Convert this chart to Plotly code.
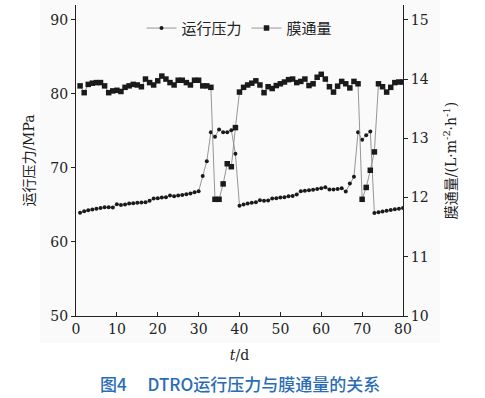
import plotly.graph_objects as go

days = list(range(1, 81))

pressure = [
    63.93, 64.16, 64.29, 64.38, 64.47, 64.60, 64.69, 64.69, 64.65, 65.10,
    65.00, 65.05, 65.19, 65.23, 65.28, 65.32, 65.37, 65.55, 65.86, 65.90,
    66.00, 66.04, 66.26, 66.17, 66.26, 66.35, 66.44, 66.53, 66.71, 66.85,
    68.90, 70.90, 74.80, 74.20, 75.20, 74.80, 74.80, 75.10, 71.90, 64.90,
    65.05, 65.19, 65.30, 65.37, 65.63, 65.55, 65.60, 65.86, 65.90, 66.00,
    66.05, 66.17, 66.20, 66.40, 66.85, 66.90, 66.98, 67.05, 67.16, 67.25,
    67.39, 67.07, 67.10, 67.16, 67.25, 66.80, 67.90, 68.80, 74.80, 73.80,
    74.40, 74.90, 63.90, 64.00, 64.10, 64.20, 64.30, 64.40, 64.50, 64.60,
]

flux = [
    13.885, 13.77, 13.91, 13.93, 13.94, 13.94, 13.885, 13.77, 13.80, 13.81,
    13.79, 13.86, 13.885, 13.91, 13.90, 13.87, 14.00, 13.94, 13.90, 13.97,
    14.05, 14.00, 13.94, 13.90, 13.98, 13.98, 13.94, 13.90, 13.98, 13.98,
    13.885, 13.885, 13.86, 11.97, 11.97, 12.23, 12.57, 12.52, 13.18, 13.78,
    13.86, 13.90, 13.93, 13.97, 13.90, 13.77, 13.87, 13.84, 13.89, 13.92,
    13.95, 13.99, 14.00, 13.94, 13.96, 14.00, 13.89, 13.92, 14.03, 14.08,
    14.00, 13.87, 13.78, 13.88, 13.96, 13.92, 13.85, 13.96, 13.92, 11.97,
    12.17, 12.46, 12.77, 13.92, 13.87, 13.78, 13.86, 13.94, 13.95, 13.95,
]

x_ticks = [0, 10, 20, 30, 40, 50, 60, 70, 80]
y1_ticks = [50, 60, 70, 80, 90]
y2_ticks = [10, 11, 12, 13, 14, 15]

serif = "DejaVu Serif"
mixed = "DejaVu Serif, Noto Sans CJK SC"
line_col = "#8a8a8a"
mark_col = "#1a1a1a"
ink = "#222222"

fig = go.Figure()
fig.add_trace(go.Scatter(
    x=days, y=pressure, name="运行压力", mode="lines+markers",
    line=dict(color=line_col, width=0.9),
    marker=dict(symbol="circle", size=4, color=mark_col),
    yaxis="y",
))
fig.add_trace(go.Scatter(
    x=days, y=flux, name="膜通量", mode="lines+markers",
    line=dict(color=line_col, width=0.9),
    marker=dict(symbol="square", size=5.5, color=mark_col),
    yaxis="y2",
))

fig.update_layout(
    width=485, height=398,
    margin=dict(l=76, r=82, t=5, b=82),
    paper_bgcolor="white", plot_bgcolor="rgba(0,0,0,0)",
    font=dict(family=mixed, size=15, color=ink),
    showlegend=True,
    legend=dict(
        orientation="h", x=0.5, xanchor="center", y=0.925, yanchor="middle",
        bgcolor="rgba(0,0,0,0)", font=dict(family=mixed, size=15, color=ink),
        itemwidth=30, tracegroupgap=0,
    ),
    xaxis=dict(
        range=[0, 80], tickvals=x_ticks, ticks="inside", ticklen=4,
        tickcolor=ink, showline=True, linecolor=ink, linewidth=1,
        showgrid=False, zeroline=False, mirror=False,
        tickfont=dict(family=serif, size=14, color=ink),
        title=dict(text="<i>t</i>/d", font=dict(family=serif, size=14, color=ink), standoff=14),
    ),
    yaxis=dict(
        range=[50, 92], tickvals=y1_ticks, ticks="outside", ticklen=4,
        tickcolor=ink, showline=True, linecolor=ink, linewidth=1,
        showgrid=False, zeroline=False,
        tickfont=dict(family=serif, size=14, color=ink),
        title=dict(text="运行压力/MPa", font=dict(family=mixed, size=14, color=ink), standoff=12),
    ),
    yaxis2=dict(
        range=[10, 15.25], tickvals=y2_ticks, ticks="outside", ticklen=4,
        tickcolor=ink, showline=True, linecolor=ink, linewidth=1,
        showgrid=False, zeroline=False, overlaying="y", side="right",
        tickfont=dict(family=serif, size=14, color=ink),
        title=dict(text="膜通量/(L·m<sup>-2</sup>·h<sup>-1</sup>)",
                   font=dict(family=mixed, size=14, color=ink), standoff=18),
    ),
    shapes=[dict(
        type="rect", xref="paper", yref="paper", layer="below",
        x0=(40 - 76) / 327, x1=(440 - 76) / 327, y0=(316 - 343) / 311, y1=(316 + 5) / 311,
        fillcolor="#fafafa", line=dict(width=0),
    )],
    annotations=[dict(
        text="图4　 DTRO运行压力与膜通量的关系", xref="paper", yref="paper",
        x=(240 - 76) / 327, y=(316 - 383) / 311, xanchor="center", yanchor="middle",
        showarrow=False,
        font=dict(family="Noto Sans CJK SC", size=17, color="#2a6cb5", weight=500),
    )],
)

fig.write_html("out.html", config={"displayModeBar": False},
               post_script="document.body.style.margin='0';")
